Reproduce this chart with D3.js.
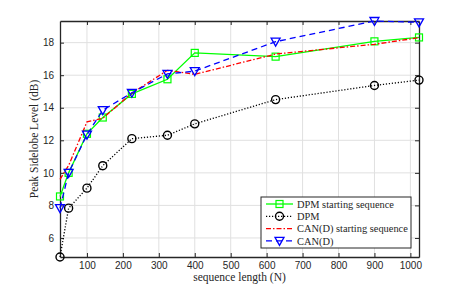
<!DOCTYPE html>
<html>
<head>
<meta charset="utf-8">
<script src="https://cdn.jsdelivr.net/npm/d3@7"></script>
<style>
  body { margin: 0; background: #fff; }
  .tick text { font-family: "Liberation Sans", Arial, sans-serif; font-size: 10px; fill: #262626; }
  .lbl { font-family: "Liberation Serif", "DejaVu Serif", serif; font-size: 11.5px; fill: #262626; }
  .leg { font-family: "Liberation Serif", "DejaVu Serif", serif; font-size: 10.4px; fill: #262626; }
</style>
</head>
<body>
<svg id="chart" width="463" height="289"></svg>
<script>
// sequence lengths (perfect squares)
const seqLen = [25, 49, 100, 144, 225, 324, 400, 625, 900, 1024];
const dpmStart = [8.55, 10.0, 12.4, 13.4, 14.85, 15.75, 17.37, 17.14, 18.08, 18.32];
const dpm = [4.83, 7.83, 9.06, 10.44, 12.1, 12.31, 13.01, 14.5, 15.37, 15.7];
const canStart = [9.6, 10.45, 13.13, 13.35, 14.9, 16.3, 16.05, 17.3, 17.9, 18.3];
const can = [7.83, 10.0, 12.35, 13.85, 14.92, 16.08, 16.25, 18.06, 19.33, 19.25];
const xTicks = [100, 200, 300, 400, 500, 600, 700, 800, 900, 1000];
const yTicks = [6, 8, 10, 12, 14, 16, 18];
const seriesNames = ["DPM starting sequence", "DPM", "CAN(D) starting sequence", "CAN(D)"];

const margin = { top: 21, right: 44, bottom: 32, left: 60 };
const W = 463, H = 289;
const w = W - margin.left - margin.right;
const h = H - margin.top - margin.bottom;

const svg = d3.select("#chart");
const g = svg.append("g").attr("transform", `translate(${margin.left},${margin.top})`);

const allY = dpmStart.concat(dpm, canStart, can);
const x = d3.scaleLinear().domain([25, 1024]).range([0, w]);
const y = d3.scaleLinear().domain([d3.min(allY), d3.max(allY)]).range([h, 0]);

// grid
g.append("g").selectAll("line").data(xTicks).enter().append("line")
  .attr("x1", d => x(d)).attr("x2", d => x(d)).attr("y1", 0).attr("y2", h)
  .attr("stroke", "#e0e0e0").attr("stroke-width", 1);
g.append("g").selectAll("line").data(yTicks).enter().append("line")
  .attr("y1", d => y(d)).attr("y2", d => y(d)).attr("x1", 0).attr("x2", w)
  .attr("stroke", "#e0e0e0").attr("stroke-width", 1);

// axes (ticks inward, box on)
function styleAxis(sel) {
  sel.select(".domain").attr("stroke", "#262626").attr("stroke-width", 1.3);
  sel.selectAll(".tick line").attr("stroke", "#262626").attr("stroke-width", 1);
}
g.append("g").attr("transform", `translate(0,${h})`)
  .call(d3.axisBottom(x).tickValues(xTicks).tickSize(-4).tickSizeOuter(0).tickPadding(5).tickFormat(d3.format("d")))
  .call(styleAxis);
g.append("g")
  .call(d3.axisLeft(y).tickValues(yTicks).tickSize(-4).tickSizeOuter(0).tickPadding(6))
  .call(styleAxis);
g.append("g")
  .call(d3.axisTop(x).tickValues(xTicks).tickSize(-4).tickSizeOuter(0).tickFormat(""))
  .call(styleAxis);
g.append("g").attr("transform", `translate(${w},0)`)
  .call(d3.axisRight(y).tickValues(yTicks).tickSize(-4).tickSizeOuter(0).tickFormat(""))
  .call(styleAxis);

const series = [
  { name: seriesNames[0], vals: dpmStart, color: "#00ff00", dash: null, marker: "square" },
  { name: seriesNames[1], vals: dpm, color: "#000000", dash: "1.2,1.8", marker: "circle" },
  { name: seriesNames[2], vals: canStart, color: "#ff0000", dash: "5,2,1.5,2", marker: null },
  { name: seriesNames[3], vals: can, color: "#0000ff", dash: "6,4", marker: "triangle" }
];

const line = d3.line().x(d => x(d[0])).y(d => y(d[1]));

function drawMarker(sel, type, color) {
  if (type === "square") {
    sel.append("rect").attr("x", -3.5).attr("y", -3.5).attr("width", 7).attr("height", 7)
      .attr("fill", "none").attr("stroke", color).attr("stroke-width", 1.2);
  } else if (type === "circle") {
    sel.append("circle").attr("r", 4)
      .attr("fill", "none").attr("stroke", color).attr("stroke-width", 1.4);
  } else if (type === "triangle") {
    sel.append("path").attr("d", "M-4.5,-3.5L4.5,-3.5L0,4.5Z")
      .attr("fill", "none").attr("stroke", color).attr("stroke-width", 1.3);
  }
}

series.forEach(s => {
  const pts = seqLen.map((n, i) => [n, s.vals[i]]);
  g.append("path").datum(pts)
    .attr("d", line).attr("fill", "none")
    .attr("stroke", s.color).attr("stroke-width", 1.3)
    .attr("stroke-dasharray", s.dash);
  if (s.marker) {
    pts.forEach(p => {
      const m = g.append("g").attr("transform", `translate(${x(p[0])},${y(p[1])})`);
      drawMarker(m, s.marker, s.color);
    });
  }
});

// legend
const lg = svg.append("g").attr("transform", "translate(261,197)");
lg.append("rect").attr("width", 150).attr("height", 51)
  .attr("fill", "#fff").attr("stroke", "#262626").attr("stroke-width", 1);
series.forEach((s, i) => {
  const ry = 7 + i * 12.3;
  lg.append("line").attr("x1", 5).attr("x2", 32).attr("y1", ry).attr("y2", ry)
    .attr("stroke", s.color).attr("stroke-width", 1.3).attr("stroke-dasharray", s.dash);
  if (s.marker) {
    const m = lg.append("g").attr("transform", `translate(18.5,${ry})`);
    drawMarker(m, s.marker, s.color);
  }
  lg.append("text").attr("class", "leg").attr("x", 36).attr("y", ry).attr("dy", "0.35em")
    .text(s.name);
});

// axis labels
svg.append("text").attr("class", "lbl").attr("x", margin.left + w / 2).attr("y", 281)
  .attr("text-anchor", "middle").text("sequence length (N)");
svg.append("text").attr("class", "lbl")
  .attr("transform", `translate(38,${margin.top + h / 2}) rotate(-90)`)
  .attr("text-anchor", "middle").text("Peak Sidelobe Level (dB)");
</script>
</body>
</html>
